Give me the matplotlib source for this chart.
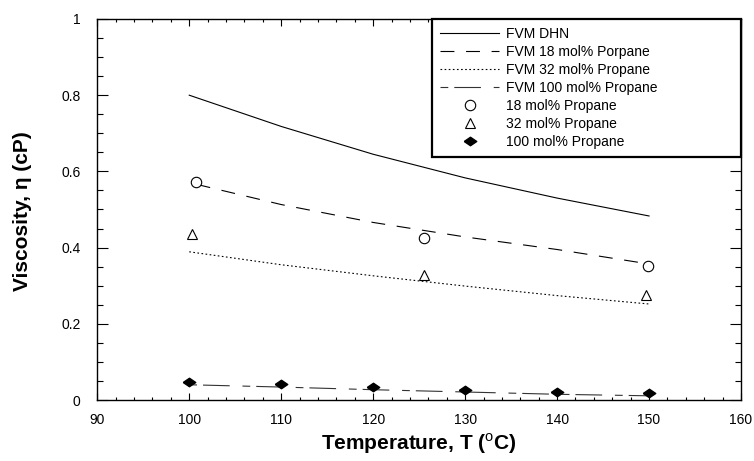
import matplotlib
matplotlib.use("Agg")
import matplotlib.pyplot as plt
from matplotlib.ticker import MultipleLocator

plt.rcParams['font.family'] = ['Liberation Sans', 'DejaVu Sans']
plt.rcParams['mathtext.fontset'] = 'custom'
plt.rcParams['mathtext.rm'] = 'Liberation Sans'

# curvas do modelo FVM
t_fvm = [100, 110, 120, 130, 140, 150]
fvm_dhn = [0.800, 0.718, 0.645, 0.583, 0.530, 0.483]
t_fvm18 = [100.8, 110, 120, 130, 140, 150]
fvm_18 = [0.566, 0.513, 0.466, 0.428, 0.395, 0.357]
fvm_32 = [0.389, 0.355, 0.326, 0.299, 0.274, 0.252]
fvm_100 = [0.040, 0.034, 0.027, 0.021, 0.015, 0.011]

# dados experimentais
t_18 = [100.7, 125.5, 149.9]
visc_18 = [0.571, 0.426, 0.352]
t_32 = [100.3, 125.5, 149.7]
visc_32 = [0.435, 0.328, 0.276]
t_100 = [100, 110, 120, 130, 140, 150]
visc_100 = [0.048, 0.041, 0.033, 0.025, 0.021, 0.018]

fig = plt.figure(figsize=(7.54, 4.61), dpi=100)
ax = fig.add_axes([97.3/754, 1 - 400/461, (741 - 97.3)/754, (400 - 19)/461])

ax.plot(t_fvm, fvm_dhn, '-', color='black', lw=0.8, label='FVM DHN')
ax.plot(t_fvm18, fvm_18, color='black', lw=0.8, dashes=(12.5, 10.5), label='FVM 18 mol% Porpane')
ax.plot(t_fvm, fvm_32, color='black', lw=0.8, dashes=(1.5, 2.2), label='FVM 32 mol% Propane')
ax.plot(t_fvm, fvm_100, color='#333333', lw=0.8, dashes=(7, 5.4, 24, 11.5), label='FVM 100 mol% Propane')

ax.plot(t_18, visc_18, 'o', mfc='white', mec='black', mew=0.8, ms=7.5, label='18 mol% Propane')
ax.plot(t_32, visc_32, '^', mfc='white', mec='black', mew=0.8, ms=7.5, label='32 mol% Propane')
diamante = [(-1, 0), (0, 0.68), (1, 0), (0, -0.68), (-1, 0)]
ax.plot(t_100, visc_100, marker=diamante, ls='none', color='black', ms=9, label='100 mol% Propane')

ax.set_xlim(90, 160)
ax.set_ylim(0, 1)
ax.xaxis.set_major_locator(MultipleLocator(10))
ax.xaxis.set_minor_locator(MultipleLocator(2))
ax.yaxis.set_minor_locator(MultipleLocator(0.05))
ax.set_yticks([0, 0.2, 0.4, 0.6, 0.8, 1.0])
ax.set_yticklabels(['0', '0.2', '0.4', '0.6', '0.8', '1'])

ax.tick_params(which='both', direction='in', top=True, right=True, labelsize=10, colors='black')
ax.tick_params(axis='x', which='major', length=5, width=0.8, pad=9)
ax.tick_params(axis='x', which='minor', length=2.5, width=0.8)
ax.tick_params(axis='y', which='major', length=8, width=0.8, pad=12)
ax.tick_params(axis='y', which='minor', length=4.5, width=0.8)
for s in ax.spines.values():
    s.set_linewidth(1.0)

ax.set_xlabel(r'Temperature, T ($^{\mathrm{o}}$C)', fontsize=15, fontweight='bold')
ax.set_ylabel('Viscosity, η (cP)', fontsize=15, fontweight='bold')
ax.xaxis.set_label_coords(0.5, -0.081)
ax.yaxis.set_label_coords(-0.101, 0.495)

leg = ax.legend(loc='upper right', bbox_to_anchor=(432/754, 1 - 163/461, (741 - 432)/754, (163 - 19)/461),
                bbox_transform=fig.transFigure, mode='expand', fontsize=10, frameon=True,
                fancybox=False, framealpha=1, edgecolor='black', borderaxespad=0,
                labelspacing=0.28, handlelength=4.2, handletextpad=0.5, borderpad=0.6)
leg.get_frame().set_linewidth(1.6)

fig.savefig('out.png', dpi=100)
